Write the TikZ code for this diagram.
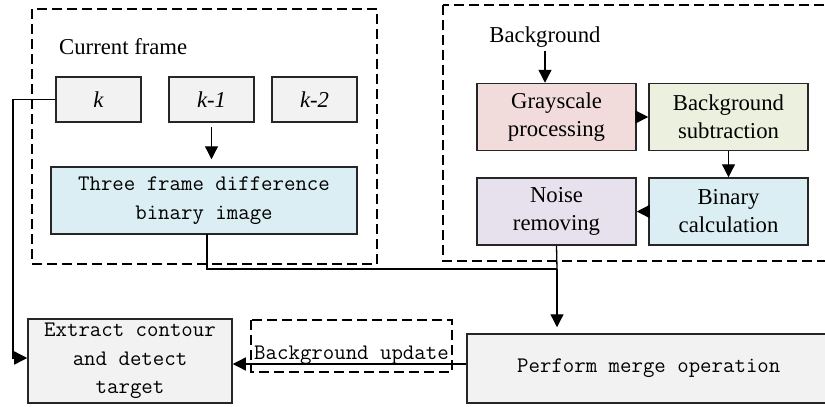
\documentclass[tikz,border=0pt]{standalone}
\usepackage{fontspec}
\setmainfont{Liberation Serif}
\usetikzlibrary{arrows.meta}
\definecolor{boxgray}{HTML}{F2F2F2}
\definecolor{boxblue}{HTML}{DBEEF3}
\definecolor{boxpink}{HTML}{F2DCDB}
\definecolor{boxgreen}{HTML}{EBF1DE}
\definecolor{boxlilac}{HTML}{E6E1EC}
\tikzset{
  serif/.style={font=\fontsize{22.8}{28}\selectfont},
  mono/.style={font=\fontsize{22.3}{28.5}\selectfont\ttfamily},
  blk/.style={draw=black!85, line width=1.5bp, rectangle, inner sep=0pt, align=center},
  framebox/.style={blk, minimum width=85bp, minimum height=45bp, fill=boxgray, serif},
  procbox/.style={blk, minimum width=159bp, minimum height=67bp, serif},
  group/.style={draw=black, line width=1.5bp, dash pattern=on 10bp off 5bp},
  wire/.style={draw=black, line width=1.3bp},
  arr/.style={wire, -{Triangle[length=13bp,width=13bp]}},
  lbl/.style={inner sep=0pt, serif}
}
\begin{document}
\begin{tikzpicture}[x=1bp, y=-1bp]
\useasboundingbox (0,0) rectangle (825,406);

% dashed group frames
\draw[group] (32,9) rectangle (377,264);
\draw[group] (443,5) rectangle (835,261);

% current frame group
\node[lbl, anchor=base west] (cf) at (59,54) {Current frame};
\node[framebox] (k)  at (98.5,99.5)  {\itshape k};
\node[framebox] (k1) at (211.5,99.5) {\itshape k-1};
\node[framebox] (k2) at (314.5,99.5) {\itshape k-2};
\node[blk, fill=boxblue, minimum width=306bp, minimum height=67bp, mono] (tfd) at (204,200.5)
  {Three frame difference\\binary image};
\draw[arr, shorten <=4bp, shorten >=7bp] (k1.south) -- (k1.south |- tfd.north);

% background group
\node[lbl, anchor=base] (bg) at (545,42) {Background};
\node[procbox, fill=boxpink]  (gray)  at (556.5,117)   {Grayscale\\processing};
\node[procbox, fill=boxgreen] (bgsub) at (728.5,117)   {Background\\subtraction};
\node[procbox, fill=boxblue]  (bin)   at (728.5,211.5) {Binary\\calculation};
\node[procbox, fill=boxlilac] (noise) at (556.5,211.5) {Noise\\removing};
\draw[arr, shorten <=9bp] (bg.base) -- (bg.base |- gray.north);
\draw[arr] (gray.east) -- (bgsub.west);
\draw[arr] (bgsub.south) -- (bin.north);
\draw[arr] (bin.west) -- (noise.east);

% lower row
\node[blk, fill=boxgray, minimum width=204bp, minimum height=84bp, mono] (extract) at (130,361)
  {Extract contour\\and detect\\target};
\node[blk, fill=boxgray, minimum width=364bp, minimum height=69bp, mono, anchor=west] (merge) at (466,368.5)
  {Perform merge operation};
\draw[group] (251,320) rectangle (452,372);
\node[inner sep=0pt, mono, anchor=base] (upd) at (351.5,359) {Background update};

% connectors
\coordinate (tap) at (207,234);
\coordinate (join) at (557,269);
\coordinate (kcorner) at (13,99.5);
\coordinate (kin) at (13,358);
\coordinate (updline) at (350,364);
\draw[wire] (tap) |- (join);
\draw[wire] (noise.south) -- (join);
\draw[arr, shorten >=6bp] (join) -- (join |- merge.north);
\draw[arr] (k.west) -- (kcorner) -- (kin) -- (kin -| extract.west);
\draw[arr] (merge.west |- updline) -- (extract.east |- updline);
\end{tikzpicture}
\end{document}
